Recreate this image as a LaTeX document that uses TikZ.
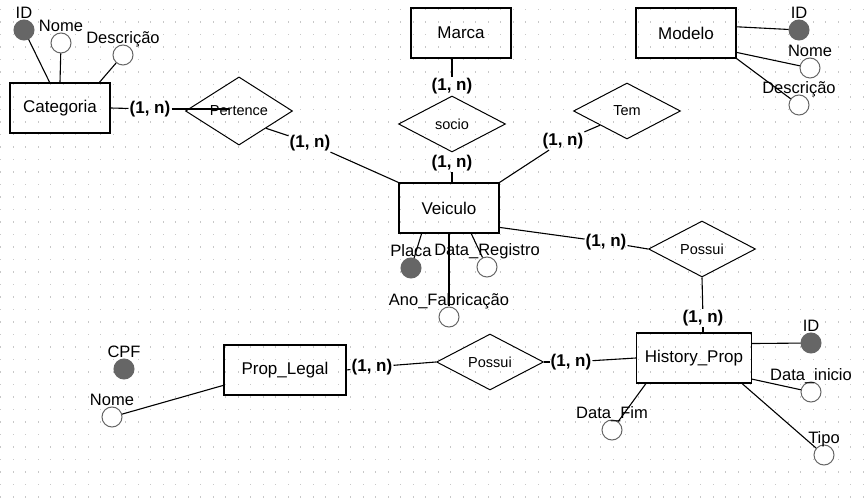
\documentclass[tikz,border=0pt]{standalone}
\usepackage{fontspec}
\setmainfont{Liberation Sans}
\usetikzlibrary{shapes.geometric}
\definecolor{attrgray}{HTML}{666666}
\definecolor{dotgray}{HTML}{C8C8C8}

\begin{document}
\begin{tikzpicture}
        [
        x=1pt, y=-1pt,
        label distance=-2.5pt,
        entity/.style={draw, line width=1.1pt, minimum width=100pt, minimum height=50pt, font=\fontsize{17}{20}\selectfont},
        relation/.style={draw, diamond, line width=1pt, minimum width=107pt, minimum height=56pt, inner sep=0pt, font=\fontsize{14.5}{17}\selectfont},
        attr/.style={circle, draw=attrgray, line width=1pt, minimum size=20pt, inner sep=0pt, fill=white},
        key/.style={attr, fill=attrgray},
        card/.style={font=\bfseries\fontsize{17}{20}\selectfont, inner sep=1pt},
        link/.style={line width=1.1pt},
        every label/.style={font=\fontsize{16.5}{20}\selectfont, inner sep=0pt, text height=12pt, text depth=3.5pt},
        ]
        \useasboundingbox (0,0) rectangle (868,502);
        \fill[white] (0,0) rectangle (868,502);
        \foreach \i in {0,...,69}
            \foreach \j in {0,...,39}
                \fill[dotgray] (12.5*\i,9+12.5*\j) rectangle ++(1.2,1.2);

        \node[entity] (cat) at (60,108) {Categoria};
        \node[key, label=above:ID] (catid) at (24,30) {};
        \node[attr, label=above:Nome] (catnome) at (61,43) {};
        \node[attr, label=above:Descrição] (catdesc) at (123,55) {};
        \node[relation] (pert) at (239,111) {Pertence};
        \coordinate (pertin) at (229,109);
        \node[card] (c1) at (150,109) {(1, n)};
        \node[card] (c2) at (310,143) {(1, n)};

        \node[entity] (marca) at (461,33) {Marca};
        \node[card] (c3) at (452,86) {(1, n)};
        \node[relation] (socio) at (452,124) {socio};
        \node[card] (c4) at (452,163) {(1, n)};

        \node[relation] (tem) at (627,111) {Tem};
        \node[card] (c5) at (563,141) {(1, n)};

        \node[entity] (modelo) at (686,33) {Modelo};
        \node[key, label=above:ID] (modid) at (799,30) {};
        \node[attr, label=above:Nome] (modnome) at (810,68) {};
        \node[attr, label=above:Descrição] (moddesc) at (799,105) {};

        \node[entity] (veic) at (449,208) {Veiculo};
        \node[key, label=above:Placa] (placa) at (411,268) {};
        \node[attr, label=above:Data\_Registro] (datareg) at (487,267) {};
        \node[attr, label=above:Ano\_Fabricação] (anofab) at (449,317) {};
        \node[card] (c6) at (606,242) {(1, n)};
        \node[relation] (pos1) at (702,249) {Possui};
        \node[card] (c7) at (703,318) {(1, n)};

        \node[entity, minimum width=115pt] (hist) at (694,358) {History\_Prop};
        \node[key, label=above:ID] (hid) at (811,343) {};
        \node[attr, label=above:Data\_inicio] (hini) at (811,392) {};
        \node[attr, label=above:Tipo] (htipo) at (824,455) {};
        \node[attr, label=above:Data\_Fim] (hfim) at (612,430) {};
        \node[card] (c8) at (571,362) {(1, n)};
        \node[relation] (pos2) at (490,362) {Possui};
        \node[card] (c9) at (372,367) {(1, n)};

        \node[entity, minimum width=122pt] (prop) at (285,370) {Prop\_Legal};
        \node[key, label=above:CPF] (cpf) at (124,369) {};
        \node[attr, label=above:Nome] (pnome) at (112,417) {};

        \draw[link] (cat.112) -- (catid);
        \draw[link] (cat.north) -- (catnome);
        \draw[link] (cat.33) -- (catdesc);
        \draw[link] (cat.east) -- (c1);
        \draw[link] (c1) -- (pertin);
        \draw[link] (pert.south east) -- (c2);
        \draw[link] (c2) -- (veic.north west);
        \draw[link] (marca.south -| c3) -- (c3);
        \draw[link] (c4) -- (veic.north -| c4);
        \draw[link] (tem.south west) -- (c5);
        \draw[link] (c5) -- (veic.north east);
        \draw[link] (modelo.7) -- (modid);
        \draw[link] (modelo.-21) -- (modnome);
        \draw[link] (modelo.south east) -- (moddesc);
        \draw[link] (veic.-137) -- (placa);
        \draw[link] (veic.-49) -- (datareg);
        \draw[link] (veic.south) -- (anofab);
        \draw[link] (veic.-21) -- (c6);
        \draw[link] (c6) -- (pos1.west);
        \draw[link] (pos1.south) -- (c7);
        \draw[link] (c7) -- (hist.north -| c7);
        \draw[link] (hist.14) -- (hid);
        \draw[link] (hist.-20) -- (hini);
        \draw[link] (hist.-28) -- (htipo);
        \draw[link] (hist.-152) -- (hfim);
        \draw[link] (hist.west) -- (c8);
        \draw[link] (c8) -- (pos2.east);
        \draw[link] (pos2.west) -- (c9);
        \draw[link] (c9) -- (prop.east);
        \draw[link] (prop.-166) -- (pnome);
\end{tikzpicture}
\end{document}
